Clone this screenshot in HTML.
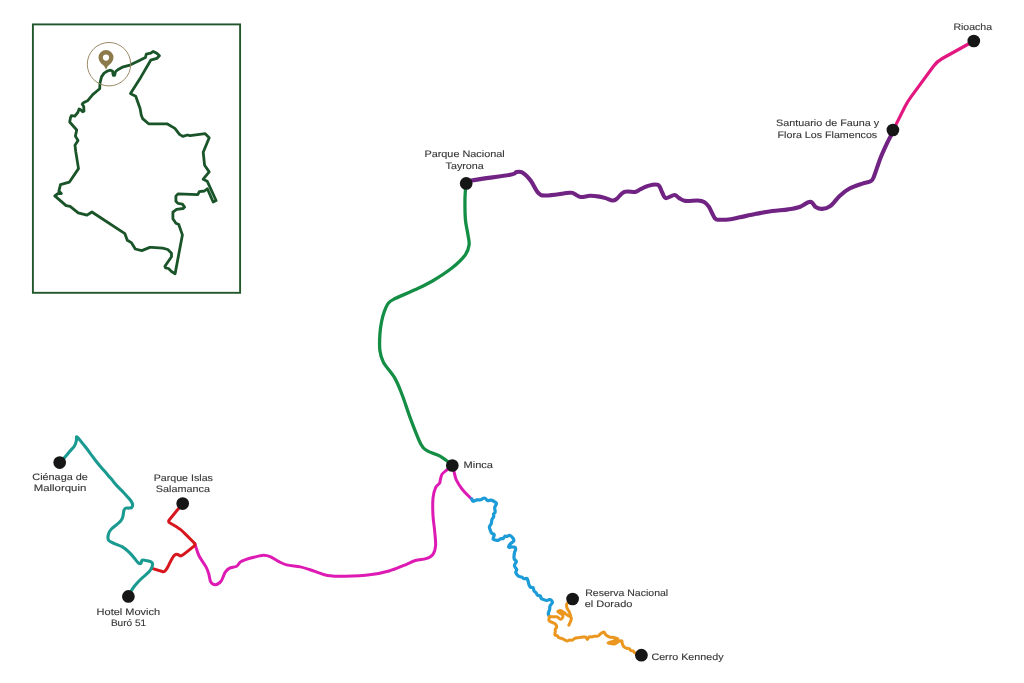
<!DOCTYPE html>
<html><head><meta charset="utf-8"><style>
html,body{margin:0;padding:0;background:#fff;width:1024px;height:683px;overflow:hidden}
svg{display:block;will-change:transform}
text{text-rendering:geometricPrecision;font-family:"Liberation Sans",sans-serif;font-size:9.4px;fill:#363636;stroke:#363636;stroke-width:0.12px}
path{fill:none;stroke-linecap:round;stroke-linejoin:round}
</style></head><body>
<svg width="1024" height="683" viewBox="0 0 1024 683">
<rect x="32.9" y="24.4" width="207.2" height="268.4" fill="none" stroke="#22572c" stroke-width="1.9"/>
<path d="M101.5,76.9 L100.0,83.0 L99.7,88.7 L96.1,91.8 L92.7,94.6 L87.5,100.8 L83.4,102.8 L82.2,104.1 L83.7,106.4 L84.0,111.0 L82.7,111.8 L80.4,109.5 L79.1,109.0 L77.8,112.5 L74.8,116.2 L71.4,115.6 L70.5,117.6 L69.7,122.0 L76.7,130.0 L75.4,136.1 L78.0,140.5 L75.0,145.3 L75.8,151.9 L78.5,168.6 L69.3,182.2 L60.5,184.6 L58.9,191.1 L61.3,193.5 L58.1,193.5 L54.8,195.9 L66.1,205.6 L70.1,206.4 L78.2,212.8 L87.0,215.2 L91.9,212.0 L124.9,233.7 L127.3,240.2 L131.3,242.6 L135.3,249.0 L141.8,250.6 L149.8,247.4 L151.7,247.3 L162.7,248.1 L167.8,249.5 L171.5,253.2 L171.5,256.8 L164.9,266.3 L165.6,267.8 L168.5,268.5 L171.5,271.5 L175.1,273.7 L182.4,234.9 L178.8,224.6 L175.9,223.2 L172.9,218.8 L172.9,212.2 L176.6,209.3 L183.2,208.5 L184.6,207.1 L182.4,204.1 L178.0,203.4 L175.9,201.2 L175.9,196.1 L178.0,193.9 L197.8,194.6 L199.3,191.7 L204.4,191.0 L207.3,188.8 L213.2,202.0 L216.1,200.5 L207.2,181.2 L203.2,179.2 L209.2,171.9 L204.6,165.3 L203.2,152.2 L209.2,137.7 L205.2,133.7 L190.1,135.7 L187.4,135.0 L182.8,136.4 L179.5,134.4 L174.9,128.4 L167.0,123.8 L148.6,123.8 L142.6,118.6 L141.3,115.3 L140.1,108.5 L135.7,96.2 L132.2,94.5 L130.5,93.6 L141.0,76.9 L150.7,60.2 L156.8,58.4 L159.4,55.8 L156.8,53.2 L153.3,51.4 L150.7,53.2 L146.3,54.1 L145.4,57.6 L138.4,61.1 L130.0,65.1 L122.3,67.2 L118.7,69.2 L115.6,71.5 L114.6,75.4 L113.3,75.4 L112.5,71.0 L110.5,70.2 L107.9,70.8 L104.1,73.1Z" stroke="#1a5429" stroke-width="2.8"/>
<circle cx="109" cy="64.2" r="21.7" fill="none" stroke="#9a8a66" stroke-width="1"/>
<path d="M106,69.4 Q104.6,65.4 100.7,62.9 A7.5,7.5 0 1 1 111.3,62.9 Q107.4,65.4 106,69.4 Z" style="fill:#8c7a4a;stroke:none"/>
<circle cx="106" cy="57.6" r="3.1" fill="#fff"/>
<path d="M973.8,41.0 L942.3,58.5 Q937.1,61.4 933.5,66.2 L911.2,96.6 Q907.6,101.4 904.9,106.8 L896.2,124.1 Q895.2,126.1 894.0,128.0 L892.9,129.9" stroke="#e2177f" stroke-width="3.2"/>
<path d="M466.3,183.4 C467.1,182.9 464.0,182.1 471.3,180.6 C478.6,179.1 502.8,176.1 510.3,174.7 C517.9,173.3 514.5,172.3 516.6,172.0 C518.7,171.7 520.5,171.4 522.8,172.8 C525.1,174.2 528.0,177.2 530.6,180.6 C533.2,184.0 535.8,190.6 538.4,193.1 C541.0,195.6 541.1,195.6 546.3,195.5 C551.5,195.4 565.0,193.1 569.7,192.8 C574.4,192.5 572.6,193.2 574.4,193.9 C576.2,194.6 578.0,196.7 580.6,197.0 C583.2,197.3 586.9,195.9 590.0,195.8 C593.1,195.7 596.8,196.2 599.4,196.6 C602.0,197.0 603.4,197.4 605.6,198.1 C607.8,198.8 610.9,200.4 612.7,200.5 C614.5,200.6 614.7,200.3 616.6,198.9 C618.5,197.5 621.3,193.1 624.4,191.9 C627.5,190.7 632.7,192.3 635.3,191.9 C637.9,191.5 637.9,190.5 640.0,189.5 C642.1,188.5 644.8,186.7 647.8,185.9 C650.8,185.1 655.6,183.8 658.0,184.8 C660.4,185.8 660.6,189.7 661.9,191.9 C663.2,194.1 663.7,197.6 665.8,198.1 C667.9,198.6 672.2,195.0 674.4,195.0 C676.6,195.0 677.3,197.1 679.1,198.1 C680.9,199.1 682.2,200.5 685.3,200.9 C688.4,201.3 694.7,200.3 697.8,200.5 C700.9,200.7 702.3,201.0 704.1,202.0 C705.9,203.0 707.0,204.0 708.8,206.7 C710.6,209.4 713.2,216.2 715.0,218.4 C716.8,220.6 717.1,219.6 719.7,219.7 C722.3,219.8 727.2,219.6 730.6,219.2 C734.0,218.8 735.8,218.2 740.0,217.3 C744.2,216.4 750.7,214.9 756.1,213.8 C761.5,212.8 766.8,211.7 772.2,211.0 C777.6,210.3 783.7,210.1 788.3,209.4 C792.9,208.7 796.4,208.2 799.6,207.0 C802.8,205.8 805.7,203.3 807.7,202.5 C809.7,201.7 810.4,201.4 811.7,202.2 C813.0,202.9 814.0,205.9 815.7,207.0 C817.5,208.1 819.8,209.0 822.2,208.9 C824.6,208.8 827.2,208.4 830.2,206.2 C833.2,204.0 836.7,198.6 839.9,195.7 C843.1,192.8 845.8,190.5 849.6,188.5 C853.4,186.5 859.0,184.8 862.5,183.6 C866.0,182.4 868.6,182.3 870.5,181.2 C872.4,180.1 872.1,180.9 873.7,177.2 C875.3,173.4 878.1,164.2 880.2,158.7 C882.4,153.2 884.6,148.5 886.6,144.2 C888.6,139.9 891.2,135.3 892.3,132.9 C893.4,130.5 892.9,130.5 893.0,130.0" stroke="#702382" stroke-width="4.1"/>
<path d="M466.1,183.3 C465.9,185.7 465.1,191.6 465.0,197.6 C464.9,203.6 464.9,213.3 465.4,219.5 C465.9,225.7 467.4,230.7 468.0,234.9 C468.6,239.1 469.5,241.5 469.1,244.8 C468.7,248.1 468.2,250.9 465.4,254.7 C462.6,258.5 457.7,263.4 452.2,267.8 C446.7,272.2 438.7,277.3 432.5,281.0 C426.3,284.7 421.1,286.9 414.9,289.8 C408.7,292.7 399.5,296.4 395.1,298.6 C390.7,300.8 390.3,300.8 388.5,303.0 C386.7,305.2 385.4,308.6 384.2,311.8 C383.0,315.0 382.2,318.3 381.5,322.0 C380.8,325.7 380.2,329.4 379.9,334.1 C379.6,338.9 379.3,345.8 379.9,350.5 C380.5,355.2 380.9,357.5 383.4,362.2 C385.9,366.9 392.0,373.1 395.1,378.6 C398.2,384.1 399.6,388.4 402.2,395.0 C404.8,401.6 407.3,410.2 410.4,418.4 C413.5,426.6 418.0,438.7 420.9,444.2 C423.8,449.7 424.8,449.2 427.9,451.2 C431.0,453.1 435.5,453.6 439.6,455.9 C443.7,458.2 450.4,463.6 452.5,465.2" stroke="#148e45" stroke-width="3.3"/>
<path d="M452.2,465.2 C451.3,466.0 448.6,468.4 446.9,469.9 C445.2,471.4 443.3,472.4 442.2,474.0 C441.1,475.6 440.8,478.2 440.3,479.8 C439.9,481.4 440.3,482.0 439.5,483.3 C438.7,484.6 436.7,485.1 435.6,487.6 C434.5,490.1 433.4,493.4 433.0,498.1 C432.6,502.8 432.7,510.1 433.0,515.7 C433.3,521.3 434.3,526.5 434.7,531.5 C435.1,536.5 435.9,541.7 435.6,545.5 C435.3,549.3 434.6,552.1 433.0,554.3 C431.4,556.5 428.8,557.7 425.9,558.7 C423.0,559.7 419.2,559.3 415.4,560.5 C411.6,561.7 407.5,564.0 403.1,565.7 C398.7,567.5 394.3,569.5 389.0,571.0 C383.7,572.5 378.8,573.6 371.5,574.5 C364.2,575.4 352.4,576.1 345.1,576.3 C337.8,576.4 332.0,576.0 327.6,575.4 C323.2,574.8 321.8,573.8 318.8,572.8 C315.9,571.8 313.0,570.7 309.9,569.7 C306.8,568.7 304.2,567.7 300.3,566.9 C296.4,566.1 290.2,565.8 286.6,564.9 C283.0,564.0 281.1,562.8 278.4,561.4 C275.7,560.0 272.7,557.7 270.2,556.7 C267.7,555.7 266.1,555.2 263.4,555.3 C260.7,555.4 257.0,556.5 253.8,557.3 C250.6,558.1 246.6,559.3 244.3,560.1 C242.0,560.9 241.5,561.1 240.2,562.1 C238.9,563.1 238.5,565.2 236.7,566.2 C234.9,567.2 231.1,567.3 229.2,568.3 C227.3,569.3 226.5,570.2 225.1,572.4 C223.7,574.6 222.6,579.2 221.0,581.3 C219.4,583.3 217.2,584.6 215.5,584.7 C213.8,584.8 211.9,583.8 210.8,582.0 C209.7,580.2 209.5,576.3 208.7,573.8 C207.9,571.3 207.6,569.9 206.0,566.9 C204.4,563.9 200.8,559.4 199.1,556.0 C197.4,552.6 196.4,548.4 195.7,546.4 C195.0,544.4 195.2,544.5 195.1,544.1" stroke="#de1ab4" stroke-width="3.0"/>
<path d="M452.2,465.2 C452.5,466.3 453.3,469.2 454.0,471.6 C454.7,474.0 454.9,476.9 456.3,479.8 C457.7,482.7 459.6,485.9 462.2,489.2 C464.8,492.5 470.5,497.9 472.1,499.7" stroke="#de1ab4" stroke-width="3.0"/>
<path d="M182.7,503.6 L179.7,507.2 Q178.1,509.1 176.5,511.0 L169.0,520.2 Q168.5,520.8 168.7,521.6 L168.7,521.6 Q168.9,522.4 169.6,522.8 L173.9,525.2 Q176.1,526.4 178.1,527.9 L179.7,528.9 Q181.7,530.4 183.5,532.2 L187.2,535.9 Q189.0,537.7 190.8,539.5 L193.1,541.8 Q193.8,542.5 194.4,543.3 L194.6,543.5 Q195.1,544.1 194.8,544.9 L194.8,544.9 Q194.6,545.6 194.0,546.1 L187.8,551.2 Q185.9,552.8 183.8,554.2 L181.7,555.5 Q180.7,556.2 179.7,555.5 L179.7,555.5 Q178.7,554.9 177.6,554.5 L177.4,554.5 Q176.1,554.1 175.0,554.9 L174.8,555.0 Q173.6,555.9 172.9,557.2 L171.7,559.3 Q170.5,561.5 169.4,563.7 L167.9,566.8 Q166.9,568.7 165.6,570.4 L165.6,570.4 Q164.3,572.1 162.3,571.5 L152.0,568.4" stroke="#d7161e" stroke-width="3"/>
<path d="M59.7,462.6 C60.5,461.8 62.9,459.4 64.6,457.5 C66.3,455.6 68.3,453.1 70.0,451.1 C71.7,449.2 73.5,447.6 74.6,445.8 C75.7,444.0 76.1,442.0 76.4,440.5 C76.7,439.0 76.1,437.0 76.6,436.8 C77.1,436.6 77.9,437.7 79.2,439.2 C80.5,440.7 82.6,443.4 84.5,445.8 C86.4,448.2 88.7,451.2 90.6,453.8 C92.5,456.4 94.2,458.9 96.1,461.2 C97.9,463.5 99.8,465.7 101.7,467.9 C103.6,470.1 105.6,472.3 107.4,474.4 C109.2,476.5 111.0,478.7 112.6,480.6 C114.2,482.5 115.3,484.0 117.0,485.9 C118.7,487.8 121.1,489.8 122.9,491.7 C124.7,493.6 126.2,495.4 127.6,497.0 C129.0,498.6 130.3,499.8 131.1,501.1 C131.9,502.4 132.5,503.5 132.6,504.6 C132.7,505.7 132.3,506.9 131.7,507.5 C131.0,508.1 129.7,508.0 128.7,508.1 C127.7,508.2 126.6,507.8 125.8,508.1 C125.0,508.4 124.5,509.1 124.1,509.9 C123.7,510.7 123.7,511.7 123.5,512.8 C123.3,513.9 123.2,515.1 122.9,516.3 C122.6,517.5 122.1,518.9 121.4,520.0 C120.7,521.1 120.1,521.8 118.5,523.2 C116.9,524.6 113.6,526.8 111.9,528.5 C110.2,530.2 109.1,531.7 108.6,533.7 C108.0,535.7 107.6,538.6 108.6,540.3 C109.6,541.9 112.2,542.5 114.5,543.6 C116.8,544.7 120.0,545.5 122.4,546.9 C124.8,548.3 127.0,550.3 129.0,552.2 C131.0,554.1 132.8,556.4 134.3,558.1 C135.8,559.9 137.1,561.8 138.2,562.7 C139.3,563.6 140.2,563.8 140.9,563.4 C141.6,563.0 141.1,560.5 142.2,560.1 C143.3,559.7 145.8,560.4 147.5,560.8 C149.2,561.2 151.3,561.7 152.1,562.7 C152.9,563.7 152.6,565.2 152.1,566.7 C151.6,568.2 150.5,570.1 148.8,572.0 C147.2,573.9 144.2,576.0 142.2,577.9 C140.2,579.8 138.6,581.3 136.9,583.2 C135.2,585.1 133.7,587.0 132.3,589.1 C130.9,591.2 129.1,594.9 128.4,596.0" stroke="#1a9a91" stroke-width="3.1"/>
<path d="M471.8,498.8 C472.0,499.2 472.2,501.1 473.0,501.3 C473.9,501.5 475.6,500.2 476.9,499.9 C478.1,499.7 479.4,500.1 480.7,499.7 C481.9,499.4 483.4,497.8 484.5,498.0 C485.7,498.1 486.4,500.2 487.5,500.5 C488.6,500.9 490.0,499.9 491.2,500.1 C492.4,500.3 493.8,501.2 494.7,501.8 C495.6,502.4 496.5,502.6 496.5,503.6 C496.5,504.6 494.9,506.2 494.7,507.6 C494.5,509.0 495.4,511.0 495.2,512.0 C495.0,513.1 493.8,513.2 493.6,514.0 C493.3,514.7 494.0,515.6 493.7,516.5 C493.4,517.5 492.3,518.6 491.9,519.7 C491.5,520.9 491.7,522.3 491.3,523.5 C490.9,524.7 489.5,525.7 489.4,526.8 C489.2,527.9 489.9,529.1 490.3,530.2 C490.7,531.3 491.1,532.6 491.8,533.3 C492.4,534.1 494.1,533.7 494.3,534.6 C494.6,535.6 492.8,538.1 493.1,539.1 C493.5,540.0 495.5,540.1 496.5,540.3 C497.4,540.4 498.0,540.3 498.7,540.1 C499.4,539.8 499.8,539.0 500.6,538.8 C501.4,538.5 502.6,538.9 503.3,538.5 C504.0,538.0 504.3,536.6 505.0,536.2 C505.6,535.9 506.6,536.6 507.4,536.5 C508.1,536.3 508.7,535.0 509.6,535.3 C510.5,535.6 512.2,537.1 512.9,538.0 C513.6,539.0 514.1,540.2 513.8,541.1 C513.5,542.0 511.8,542.5 511.0,543.3 C510.2,544.0 509.4,545.0 509.1,545.7 C508.7,546.3 508.3,547.1 508.9,547.3 C509.4,547.5 511.2,546.7 512.2,546.8 C513.3,546.8 514.6,546.9 515.2,547.4 C515.7,547.9 515.7,549.0 515.6,549.8 C515.5,550.6 514.8,551.1 514.6,552.2 C514.3,553.3 514.1,555.2 514.0,556.4 C514.0,557.6 513.9,558.3 514.3,559.2 C514.7,560.0 516.4,560.4 516.4,561.5 C516.4,562.6 514.3,564.3 514.4,565.6 C514.4,567.0 516.5,568.5 516.7,569.6 C516.9,570.7 515.7,571.5 515.7,572.3 C515.8,573.1 516.4,573.9 516.9,574.6 C517.4,575.2 518.0,576.0 518.8,576.4 C519.6,576.8 520.8,576.7 521.6,577.1 C522.5,577.4 523.0,578.5 523.9,578.7 C524.8,579.0 526.3,578.1 527.0,578.5 C527.7,578.9 527.7,580.1 528.1,581.2 C528.4,582.3 528.7,584.0 529.1,585.0 C529.5,585.9 529.7,586.6 530.4,587.1 C531.1,587.6 532.6,587.2 533.2,587.9 C533.8,588.5 533.5,590.1 534.0,590.9 C534.6,591.8 535.7,592.2 536.3,593.0 C536.9,593.7 536.9,594.8 537.6,595.3 C538.3,595.8 539.8,595.4 540.4,596.0 C541.0,596.5 540.7,597.9 541.2,598.4 C541.6,599.0 542.2,599.1 543.2,599.4 C544.1,599.8 545.9,600.5 546.9,600.5 C547.9,600.6 548.4,599.7 549.1,599.6 C549.8,599.5 550.5,599.5 551.0,600.0 C551.6,600.5 552.6,601.6 552.4,602.6 C552.3,603.5 550.6,604.4 550.1,605.6 C549.6,606.8 549.9,608.4 549.6,609.7 C549.3,611.0 548.3,612.4 548.3,613.5 C548.2,614.7 549.2,616.0 549.4,616.5" stroke="#1b9bd7" stroke-width="3.2"/>
<path d="M549.4,616.7 C549.3,617.4 548.6,619.8 549.0,620.7 C549.4,621.6 550.6,621.6 551.6,622.1 C552.6,622.6 554.3,623.1 555.2,623.9 C556.0,624.7 556.7,626.1 556.7,627.0 C556.7,627.9 555.6,628.4 555.3,629.1 C555.1,629.9 555.3,630.6 555.3,631.5 C555.2,632.5 554.6,634.2 554.9,635.0 C555.2,635.7 556.6,635.4 557.3,635.8 C558.0,636.3 558.0,637.1 558.9,637.6 C559.9,638.1 561.8,638.4 563.1,639.0 C564.4,639.5 565.8,640.7 566.9,640.9 C567.9,641.1 568.6,640.2 569.4,640.1 C570.3,639.9 571.2,640.5 572.1,640.2 C573.0,639.9 573.8,638.8 574.8,638.4 C575.8,637.9 577.2,637.8 577.9,637.7 C578.6,637.5 578.2,637.4 579.1,637.4 C579.9,637.3 582.1,637.2 583.2,637.1 C584.3,637.1 585.1,636.8 585.8,637.1 C586.4,637.5 586.7,639.4 587.3,639.4 C587.9,639.3 588.6,637.3 589.3,636.9 C590.0,636.5 591.0,637.0 591.8,636.9 C592.6,636.8 593.3,636.3 594.1,636.2 C594.9,636.1 595.8,636.5 596.5,636.3 C597.3,636.2 598.0,636.0 598.8,635.5 C599.5,635.0 600.3,633.8 601.2,633.2 C602.0,632.6 603.1,631.8 603.8,631.9 C604.4,632.0 604.7,633.3 605.2,633.9 C605.6,634.5 605.7,634.9 606.6,635.4 C607.5,636.0 609.4,637.0 610.4,637.3 C611.5,637.6 612.1,637.2 612.9,637.3 C613.7,637.4 614.4,637.8 615.2,638.0 C616.1,638.3 617.8,638.4 617.9,638.8 C618.0,639.1 616.9,639.7 615.9,640.2 C614.9,640.7 613.3,641.2 612.0,641.6 C610.7,642.1 608.2,642.6 608.1,642.9 C608.1,643.2 610.9,643.5 611.9,643.7 C613.0,643.9 613.6,644.1 614.4,644.0 C615.1,643.8 615.7,643.3 616.5,642.9 C617.4,642.4 618.7,641.5 619.5,641.1 C620.4,640.8 621.3,640.4 621.8,640.9 C622.3,641.4 622.0,643.0 622.4,644.0 C622.8,645.1 623.4,646.3 624.2,647.0 C624.9,647.7 626.1,648.0 626.9,648.2 C627.8,648.5 628.6,648.3 629.2,648.7 C629.9,649.0 630.1,650.1 630.8,650.5 C631.4,650.9 632.5,650.7 633.2,651.1 C633.8,651.5 634.1,652.5 634.9,652.8 C635.7,653.2 637.0,652.9 638.0,653.2 C638.9,653.5 640.2,654.4 640.6,654.6" stroke="#eb961e" stroke-width="3"/>
<path d="M549.4,616.7 C550.0,616.7 552.0,616.7 553.3,616.7 C554.6,616.7 556.0,616.5 557.2,616.9 C558.4,617.3 559.5,619.1 560.4,619.3 C561.2,619.5 561.9,618.6 562.3,618.0 C562.7,617.4 563.3,616.1 563.0,615.4 C562.7,614.6 561.3,614.1 560.4,613.5 C559.5,612.9 557.8,612.0 557.8,611.5 C557.8,611.0 559.4,610.5 560.4,610.6 C561.4,610.7 562.5,611.5 563.6,612.2 C564.7,612.9 565.8,614.0 566.9,614.8 C568.0,615.5 569.4,616.1 570.1,616.7 C570.9,617.3 571.4,617.6 571.4,618.6 C571.4,619.6 570.5,621.4 570.1,622.5 C569.7,623.6 569.0,624.7 568.8,625.1" stroke="#eb961e" stroke-width="3"/>
<path d="M572.5,599.4 C571.6,600.1 567.8,602.4 566.9,603.8 C566.0,605.2 566.6,606.5 566.9,607.7 C567.2,608.9 568.3,609.8 568.8,610.9 C569.3,612.0 569.8,613.1 570.1,614.1 C570.4,615.1 570.6,616.3 570.7,616.7" stroke="#eb961e" stroke-width="3"/>
<circle cx="973.8" cy="41.0" r="6.35" fill="#161616"/>
<circle cx="892.9" cy="130.0" r="6.35" fill="#161616"/>
<circle cx="466.2" cy="183.4" r="6.35" fill="#161616"/>
<circle cx="452.3" cy="465.5" r="6.35" fill="#161616"/>
<circle cx="572.6" cy="599.0" r="6.35" fill="#161616"/>
<circle cx="641.4" cy="655.2" r="6.35" fill="#161616"/>
<circle cx="182.7" cy="503.6" r="6.35" fill="#161616"/>
<circle cx="59.7" cy="462.6" r="6.35" fill="#161616"/>
<circle cx="128.4" cy="596.4" r="6.35" fill="#161616"/>
<text x="953.4" y="29.6" textLength="38.7" lengthAdjust="spacingAndGlyphs">Rioacha</text>
<text x="776.0" y="125.8" textLength="103.1" lengthAdjust="spacingAndGlyphs">Santuario de Fauna y</text>
<text x="777.6" y="137.5" textLength="99.6" lengthAdjust="spacingAndGlyphs">Flora Los Flamencos</text>
<text x="424.4" y="156.9" textLength="80.4" lengthAdjust="spacingAndGlyphs">Parque Nacional</text>
<text x="445.6" y="168.8" textLength="38.2" lengthAdjust="spacingAndGlyphs">Tayrona</text>
<text x="463.5" y="467.9" textLength="29.5" lengthAdjust="spacingAndGlyphs">Minca</text>
<text x="585.2" y="596.3" textLength="83.0" lengthAdjust="spacingAndGlyphs">Reserva Nacional</text>
<text x="584.7" y="607.3" textLength="47.7" lengthAdjust="spacingAndGlyphs">el Dorado</text>
<text x="651.4" y="659.5" textLength="72.2" lengthAdjust="spacingAndGlyphs">Cerro Kennedy</text>
<text x="153.7" y="480.7" textLength="59.2" lengthAdjust="spacingAndGlyphs">Parque Islas</text>
<text x="155.8" y="491.6" textLength="54.1" lengthAdjust="spacingAndGlyphs">Salamanca</text>
<text x="32.3" y="480.4" textLength="55.5" lengthAdjust="spacingAndGlyphs">Ciénaga de</text>
<text x="33.7" y="491.4" textLength="52.6" lengthAdjust="spacingAndGlyphs">Mallorquin</text>
<text x="96.6" y="614.9" textLength="63.6" lengthAdjust="spacingAndGlyphs">Hotel Movich</text>
<text x="110.9" y="626.0" textLength="35.3" lengthAdjust="spacingAndGlyphs">Buró 51</text>
</svg>
</body></html>
